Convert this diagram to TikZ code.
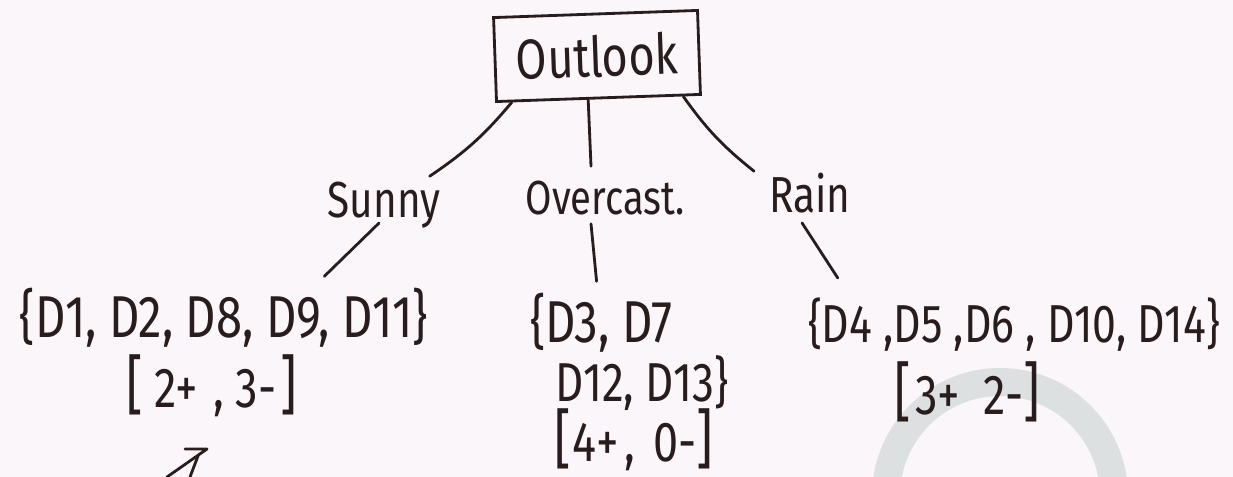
\documentclass[tikz,border=0pt]{standalone}
\usepackage{fontspec}
\newfontfamily\hand[FakeStretch=0.8]{Fira Sans}
\usetikzlibrary{calc}
\definecolor{paper}{RGB}{251,246,249}
\definecolor{ink}{RGB}{40,28,28}
\definecolor{stamp}{RGB}{221,224,224}
% tall square brackets around the class counts
\newcommand\tallbr[1]{{\fontsize{46}{46}\selectfont #1}}

\begin{document}
\begin{tikzpicture}[x=0.025cm,y=-0.025cm,
  inkline/.style={draw=ink,line width=2pt,line cap=round,line join=round},
  txt/.style={text=ink,inner sep=0pt,anchor=base,font=\hand\fontsize{#1}{#1}\selectfont},
  rootbox/.style={draw=ink,line width=2pt,text=ink,inner sep=0pt,
    minimum width=5.1cm,minimum height=2.1cm,font=\hand\fontsize{40}{40}\selectfont}]

% paper and frame
\fill[paper] (0,0) rectangle (1233,477);
\useasboundingbox (0,0) rectangle (1233,477);

% faint round stamp in the lower right corner
\begin{scope}
  \clip (0,0) rectangle (1233,477);
  \fill[stamp,even odd rule] (1000,496) circle[radius=128] (1000,496) circle[radius=100];
\end{scope}

% root
\node[rootbox,rotate=2] (out) at (597,56) {Outlook};

% branch values
\node[txt=36] (sunny) at (384,218) {Sunny};
\node[txt=34] (over) at (605,215) {Overcast.};
\node[txt=36] (rain) at (810,213) {Rain};

% example sets under each branch, with their class counts
\node[txt=42] (sset) at (224,338) {\{D1, D2, D8, D9, D11\}};
\node[txt=40] (scnt) at (212,407)
  {\tallbr{[}\hspace{8pt}2+\hspace{11pt},\hspace{8pt}3-\hspace{3pt}\tallbr{]}};

\node[txt=42,anchor=base west] (oseta) at (530,343) {\{D3, D7};
\node[txt=39,anchor=base west] (osetb) at (555,402) {D12, D13\}};
\node[txt=40] (ocnt) at (634,461)
  {\tallbr{[}\hspace{1pt}4+\hspace{4pt},\hspace{13pt}0-\tallbr{]}};

\node[txt=38] (rset) at (1014,343) {\{D4 ,D5 ,D6 , D10, D14\}};
\node[txt=40] (rcnt) at (967,414)
  {\tallbr{[}\hspace{3pt}3+\hspace{17pt}2-\tallbr{]}};

% edges root -> values
\draw[inkline] ($(out.south west)!0.08!(out.south east)$) to[bend left=8] ([shift={(-11,-6)}]sunny.north east);
\draw[inkline] ($(out.south west)!0.45!(out.south east)$) -- ([shift={(-14,-15)}]over.north);
\draw[inkline] ($(out.south west)!0.91!(out.south east)$) to[bend right=8] ([shift={(-15,-2)}]rain.north west);

% edges values -> sets
\draw[inkline] ([shift={(-5,-6)}]sunny.south) -- ([shift={(-104,-12)}]sset.north east);
\draw[inkline] ([shift={(-14,8)}]over.south) -- ([shift={(-5,-12)}]oseta.north);
\draw[inkline] ([shift={(-8,9)}]rain.south) -- ([shift={(30,-20)}]rset.north west);

% pointer arrow below the sunny count
\coordinate (ptail) at (167,477);
\coordinate (ptip) at (207,449);
\draw[inkline] (ptail) -- (ptip) -- ++(-22,0);
\draw[inkline] ([shift={(-9,7)}]ptip) -- (190,477);
\end{tikzpicture}
\end{document}
